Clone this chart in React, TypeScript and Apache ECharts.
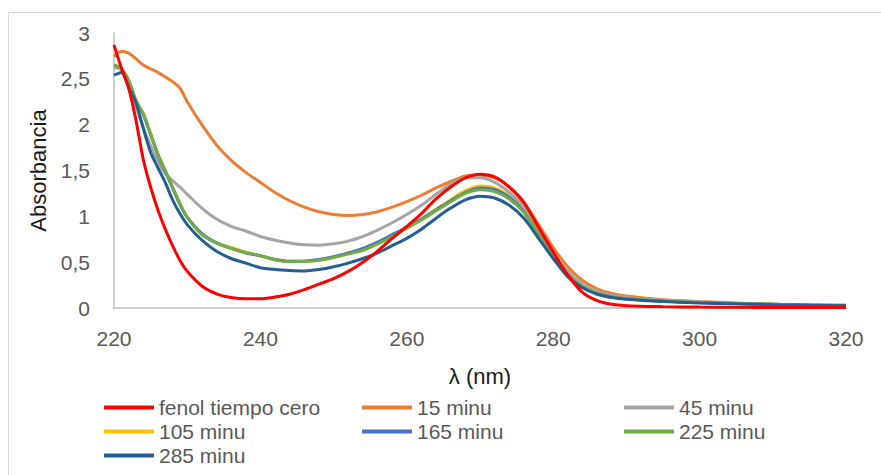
import React, { useEffect, useRef } from "react";
import * as echarts from "echarts";

const wavelengths = [220, 221, 222, 223, 224, 225, 226, 227, 228, 229, 230, 232, 234, 236, 238, 240, 242, 244, 246, 248, 250, 252, 254, 256, 258, 260, 262, 264, 266, 268, 270, 272, 274, 276, 278, 280, 282, 284, 286, 288, 290, 295, 300, 305, 310, 315, 320];

const fenol = [2.87, 2.62, 2.40, 2.05, 1.62, 1.32, 1.07, 0.86, 0.68, 0.52, 0.40, 0.24, 0.155, 0.115, 0.10, 0.10, 0.12, 0.15, 0.20, 0.26, 0.32, 0.40, 0.50, 0.62, 0.76, 0.89, 1.03, 1.19, 1.32, 1.42, 1.46, 1.43, 1.32, 1.15, 0.88, 0.61, 0.36, 0.17, 0.08, 0.04, 0.025, 0.015, 0.01, 0.008, 0.005, 0.005, 0.005];
const min15 = [2.74, 2.80, 2.78, 2.72, 2.65, 2.61, 2.57, 2.52, 2.47, 2.40, 2.25, 2.00, 1.78, 1.61, 1.48, 1.37, 1.26, 1.17, 1.10, 1.05, 1.02, 1.01, 1.02, 1.05, 1.10, 1.16, 1.23, 1.31, 1.38, 1.44, 1.45, 1.42, 1.32, 1.15, 0.91, 0.66, 0.45, 0.30, 0.21, 0.16, 0.13, 0.09, 0.07, 0.055, 0.04, 0.035, 0.03];
const min45 = [2.62, 2.60, 2.44, 2.20, 1.97, 1.77, 1.60, 1.47, 1.39, 1.32, 1.24, 1.09, 0.97, 0.89, 0.84, 0.78, 0.74, 0.71, 0.69, 0.685, 0.70, 0.73, 0.78, 0.85, 0.93, 1.02, 1.12, 1.24, 1.35, 1.42, 1.42, 1.37, 1.26, 1.10, 0.85, 0.60, 0.40, 0.26, 0.18, 0.14, 0.115, 0.085, 0.065, 0.05, 0.04, 0.035, 0.03];
const min105 = [2.65, 2.61, 2.48, 2.27, 2.12, 1.90, 1.68, 1.50, 1.32, 1.14, 0.99, 0.81, 0.71, 0.66, 0.61, 0.57, 0.53, 0.51, 0.51, 0.52, 0.55, 0.59, 0.63, 0.70, 0.78, 0.87, 0.97, 1.08, 1.18, 1.28, 1.33, 1.31, 1.22, 1.06, 0.81, 0.57, 0.36, 0.23, 0.16, 0.12, 0.10, 0.075, 0.06, 0.05, 0.04, 0.03, 0.025];
const min165 = [2.65, 2.61, 2.48, 2.26, 2.11, 1.89, 1.67, 1.49, 1.31, 1.13, 0.99, 0.81, 0.71, 0.65, 0.60, 0.57, 0.53, 0.51, 0.51, 0.53, 0.56, 0.60, 0.65, 0.72, 0.80, 0.88, 0.97, 1.07, 1.17, 1.26, 1.31, 1.29, 1.21, 1.05, 0.80, 0.56, 0.36, 0.23, 0.16, 0.12, 0.10, 0.075, 0.06, 0.05, 0.04, 0.03, 0.025];
const min225 = [2.65, 2.61, 2.48, 2.26, 2.12, 1.90, 1.68, 1.50, 1.32, 1.14, 0.99, 0.80, 0.71, 0.65, 0.605, 0.57, 0.525, 0.505, 0.51, 0.52, 0.55, 0.59, 0.63, 0.70, 0.78, 0.87, 0.96, 1.06, 1.16, 1.25, 1.29, 1.27, 1.19, 1.04, 0.80, 0.57, 0.36, 0.23, 0.16, 0.12, 0.10, 0.075, 0.06, 0.05, 0.04, 0.03, 0.025];
const min285 = [2.54, 2.57, 2.41, 2.24, 1.96, 1.70, 1.53, 1.37, 1.18, 1.03, 0.91, 0.74, 0.62, 0.54, 0.49, 0.44, 0.42, 0.41, 0.405, 0.42, 0.45, 0.49, 0.54, 0.60, 0.68, 0.76, 0.86, 0.98, 1.09, 1.18, 1.22, 1.20, 1.12, 0.98, 0.76, 0.54, 0.34, 0.22, 0.15, 0.115, 0.095, 0.07, 0.055, 0.045, 0.035, 0.03, 0.025];

const seriesNames = ["fenol tiempo cero", "15 minu", "45 minu", "105 minu", "165 minu", "225 minu", "285 minu"];
const seriesValues = [fenol, min15, min45, min105, min165, min225, min285];
const seriesColors = ["#ff0000", "#ed7d31", "#a5a5a5", "#ffc000", "#4472c4", "#70ad47", "#255e91"];

const xTicks = [220, 240, 260, 280, 300, 320];
const yTicks = [0, 0.5, 1, 1.5, 2, 2.5, 3];

const FONT = "Liberation Sans, Arial, sans-serif";

export default function App() {
  const ref = useRef<HTMLDivElement>(null);
  useEffect(() => {
    if (!ref.current) return;
    const chart = echarts.init(ref.current, undefined, { renderer: "svg" });
    const legendBase = {
      orient: "vertical" as const,
      top: 392,
      itemWidth: 50,
      itemHeight: 4,
      itemGap: 3,
      icon: "rect",
      textStyle: { fontFamily: FONT, fontSize: 21, lineHeight: 21, color: "#595959" },
      selectedMode: false,
    };
    chart.setOption({
      animation: false,
      backgroundColor: "#ffffff",
      graphic: [
        {
          type: "rect",
          shape: { x: 8.5, y: 12.5, width: 1000, height: 1000 },
          style: { fill: "none", stroke: "#d9d9d9", lineWidth: 1 },
          silent: true,
        },
      ],
      grid: { left: 114, right: 35, top: 33, bottom: 167, containLabel: false },
      legend: [
        { ...legendBase, left: 99, data: [seriesNames[0], seriesNames[3], seriesNames[6]] },
        { ...legendBase, left: 357, data: [seriesNames[1], seriesNames[4]] },
        { ...legendBase, left: 619, data: [seriesNames[2], seriesNames[5]] },
      ],
      xAxis: {
        type: "value",
        min: xTicks[0],
        max: xTicks[xTicks.length - 1],
        interval: 20,
        name: "λ (nm)",
        nameLocation: "middle",
        nameGap: 57,
        nameTextStyle: { fontFamily: FONT, fontSize: 22, color: "#1a1a1a" },
        axisLine: { show: true, lineStyle: { color: "#bfbfbf", width: 1.5 } },
        axisTick: { show: false },
        splitLine: { show: false },
        axisLabel: { fontFamily: FONT, fontSize: 21, color: "#595959", margin: 20 },
      },
      yAxis: {
        type: "value",
        min: yTicks[0],
        max: yTicks[yTicks.length - 1],
        interval: 0.5,
        name: "Absorbancia",
        nameLocation: "middle",
        nameGap: 61,
        nameRotate: 90,
        nameTextStyle: { fontFamily: FONT, fontSize: 22, color: "#1a1a1a" },
        axisLine: { show: true, lineStyle: { color: "#bfbfbf", width: 1.5 } },
        axisTick: { show: false },
        splitLine: { show: false },
        axisLabel: {
          fontFamily: FONT,
          fontSize: 21,
          color: "#595959",
          margin: 24,
          formatter: (v: number) => String(v).replace(".", ","),
        },
      },
      series: seriesNames.map((name, i) => ({
        name,
        type: "line",
        data: wavelengths.map((w, j) => [w, seriesValues[i][j]]),
        smooth: 0.3,
        showSymbol: false,
        symbol: "none",
        lineStyle: { color: seriesColors[i], width: 3 },
        itemStyle: { color: seriesColors[i] },
        z: i === 0 ? 10 : 2 + i,
      })),
    });
    return () => chart.dispose();
  }, []);
  return (
    <div
      ref={ref}
      style={{ position: "absolute", left: 0, top: 0, width: 881, height: 475 }}
    />
  );
}
